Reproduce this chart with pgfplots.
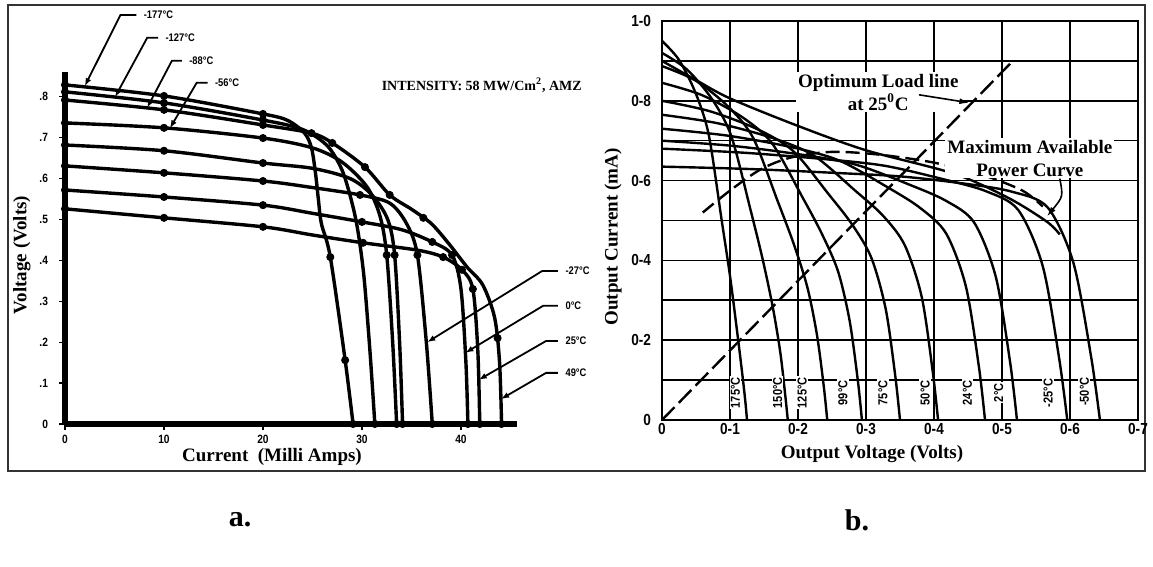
\documentclass[border=0pt]{standalone}
\usepackage{fontspec}
\setmainfont{Liberation Serif}
\newfontfamily\lett[FakeStretch=0.85]{Liberation Sans}
\usepackage{pgfplots}
\pgfplotsset{compat=1.18}
\usetikzlibrary{arrows.meta}
\begin{document}
\begin{tikzpicture}[x=0.5pt,y=0.5pt,
  cva/.style={line width=1.7pt, black, smooth, tension=0.5, mark=none, solid},
  cvb/.style={line width=1.2pt, black, smooth, tension=0.5, mark=none}]
\path[use as bounding box] (0,0) rectangle (1153,567);
\draw[line width=1pt, black!80] (8,562) rectangle (1145,96);
% ---------------- panel a ----------------
\begin{axis}[at={(32.5pt,71.5pt)}, anchor=south west, scale only axis,
  width=226.2pt, height=175.9pt,
  xmin=0, xmax=45.7, ymin=0, ymax=0.86,
  axis x line*=bottom, axis y line*=left,
  axis line style={-, line width=3pt, black},
  xtick={0,10,20,30,40}, xticklabels={0,10,20,30,40},
  ytick={0,0.1,0.2,0.3,0.4,0.5,0.6,0.7,0.8},
  yticklabels={0,.1,.2,.3,.4,.5,.6,.7,.8},
  tick style={black, line width=0.6pt}, major tick length=3pt, tick align=outside,
  ticklabel style={font=\lett\bfseries\fontsize{6}{7}\selectfont},
  xticklabel style={yshift=1pt},
  yticklabel style={xshift=-2pt},
  clip=false]
\addplot[cva] coordinates {(0,.829)(10,.802)(20,.758)(22.5,.742)(24.2,.711)(24.9,.675)(25.3,.614)(25.6,.548)(25.9,.49)(26.8,.408)(28.3,.156)(29.1,0)};
\addplot[cva] coordinates {(0,.812)(10,.785)(20,.743)(24,.72)(26.5,.68)(28,.62)(29,.54)(29.6,.47)(30.2,.36)(30.8,.18)(31.3,0)};
\addplot[cva] coordinates {(0,.792)(10,.768)(20,.731)(24.9,.711)(27,.687)(30.3,.628)(32.8,.56)(35,.525)(37,.49)(38.8,.44)(40.6,.384)(42.2,.34)(43.4,.26)(43.9,.15)(44.1,0)};
\addplot[cva] coordinates {(0,.736)(10,.724)(20,.699)(25,.675)(28,.64)(30.5,.58)(31.8,.51)(32.5,.413)(33.1,.2)(33.5,0)};
\addplot[cva] coordinates {(0,.682)(10,.668)(20,.638)(25,.625)(28.8,.60)(31,.56)(32.6,.50)(33.3,.413)(33.8,.2)(34.1,0)};
\addplot[cva] coordinates {(0,.631)(10,.614)(20,.594)(25,.578)(29.8,.56)(32.8,.54)(34.5,.49)(35.6,.413)(36.5,.2)(37.1,0)};
\addplot[cva] coordinates {(0,.572)(10,.555)(20,.535)(25,.515)(30,.494)(34,.475)(37.1,.445)(39.1,.413)(40,.33)(40.5,.15)(40.7,0)};
\addplot[cva] coordinates {(0,.526)(10,.504)(20,.482)(25,.462)(30.1,.443)(35.6,.425)(38.2,.408)(40.1,.377)(41.2,.33)(41.7,.18)(41.9,0)};
\addplot[only marks, mark=*, mark size=1.8pt, black, mark options={fill=black}] coordinates {
(0,.829)(10,.802)(20,.758)(0,.812)(10,.785)(20,.743)(0,.792)(10,.768)(20,.731)
(0,.736)(10,.724)(20,.699)(0,.682)(10,.668)(20,.638)(0,.631)(10,.614)(20,.594)
(0,.572)(10,.555)(20,.535)(0,.526)(10,.504)(20,.482)
(29.1,0)(31.3,0)(33.5,0)(34.1,0)(37.1,0)(40.7,0)(41.9,0)(44.1,0)
(26.8,.408)(28.3,.156)(30.1,.443)(30,.494)(29.8,.56)(32.5,.413)(33.3,.413)(35.6,.413)
(37.1,.445)(36.2,.504)(32.8,.56)(38.2,.408)(39.1,.413)(40.1,.377)(41.2,.33)(43.7,.21)
(24.9,.711)(27,.687)(30.3,.628)};
% labels
\begin{scope}[font=\lett\bfseries\fontsize{5.5}{6}\selectfont, line width=0.9pt]
\node[anchor=west] at (axis cs:7.2,1.0) {-177°C};
\draw[-{Latex[length=4pt,width=3pt]}] (axis cs:7.2,1.0) -- (axis cs:5.6,1.0) -- (axis cs:2.0,.826);
\node[anchor=west] at (axis cs:9.4,.944) {-127°C};
\draw[-{Latex[length=4pt,width=3pt]}] (axis cs:9.4,.944) -- (axis cs:8.3,.944) -- (axis cs:5.05,.799);
\node[anchor=west] at (axis cs:11.8,.888) {-88°C};
\draw[-{Latex[length=4pt,width=3pt]}] (axis cs:11.8,.888) -- (axis cs:10.8,.888) -- (axis cs:8.3,.773);
\node[anchor=west] at (axis cs:14.4,.834) {-56°C};
\draw[-{Latex[length=4pt,width=3pt]}] (axis cs:14.4,.834) -- (axis cs:13.3,.834) -- (axis cs:10.6,.723);
\node[anchor=west] at (axis cs:49.8,.374) {-27°C};
\draw[-{Latex[length=4pt,width=3pt]}] (axis cs:49.8,.374) -- (axis cs:48.2,.374) -- (axis cs:36.6,.20);
\node[anchor=west] at (axis cs:49.8,.289) {0°C};
\draw[-{Latex[length=4pt,width=3pt]}] (axis cs:49.8,.289) -- (axis cs:48.3,.289) -- (axis cs:40.45,.174);
\node[anchor=west] at (axis cs:49.8,.203) {25°C};
\draw[-{Latex[length=4pt,width=3pt]}] (axis cs:49.8,.203) -- (axis cs:48.6,.203) -- (axis cs:41.8,.108);
\node[anchor=west] at (axis cs:49.8,.125) {49°C};
\draw[-{Latex[length=4pt,width=3pt]}] (axis cs:49.8,.125) -- (axis cs:48.6,.125) -- (axis cs:44.05,.061);
\end{scope}
\node[font=\bfseries\fontsize{7}{8}\selectfont] at (axis cs:42.1,.829) {INTENSITY: 58 MW/Cm\textsuperscript{2}, AMZ};
\end{axis}
\node[rotate=90, font=\bfseries\fontsize{9.5}{11}\selectfont] at (22,312) {Voltage (Volts)};
\node[font=\bfseries\fontsize{9.5}{11}\selectfont] at (272,110) {Current\ \ (Milli Amps)};
% ---------------- panel b ----------------
\begin{axis}[at={(331pt,73.5pt)}, anchor=south west, scale only axis,
  width=238pt, height=199.5pt,
  xmin=0, xmax=0.7, ymin=0, ymax=1.0,
  axis line style={line width=1.4pt, black},
  xtick={0,0.1,0.2,0.3,0.4,0.5,0.6,0.7},
  xticklabels={0,0-1,0-2,0-3,0-4,0-5,0-6,0-7},
  ytick={0,0.2,0.4,0.6,0.8,1.0},
  yticklabels={0,0-2,0-4,0-6,0-8,1-0},
  minor ytick={0.1,0.3,0.5,0.7,0.9},
  grid=both, major grid style={black, line width=0.8pt}, minor grid style={black, line width=0.8pt},
  major tick length=0pt, minor tick length=0pt,
  ticklabel style={font=\lett\bfseries\fontsize{8}{9}\selectfont},
  xticklabel style={yshift=2pt},
  yticklabel style={xshift=-2pt}]
\addplot[cvb] coordinates {(0,.95)(.025,.9025)(.05,.817)(.069,.7125)(.0875,.5035)(.1,.361)(.11,.228)(.1175,.1235)(.1225,.0475)(.125,0)};
\addplot[cvb] coordinates {(0,.92)(.037,.878)(.074,.803)(.102,.711)(.13,.528)(.148,.403)(.163,.282)(.174,.169)(.181,.066)(.185,0)};
\addplot[cvb] coordinates {(0,.887)(.049,.851)(.097,.786)(.134,.707)(.17,.549)(.194,.44)(.214,.331)(.228,.212)(.238,.083)(.243,0)};
\addplot[cvb] coordinates {(0,.845)(.059,.814)(.118,.759)(.162,.693)(.206,.56)(.235,.467)(.259,.372)(.276,.248)(.288,.099)(.294,0)};
\addplot[cvb] coordinates {(0,.80)(.07,.774)(.14,.729)(.193,.674)(.245,.566)(.28,.489)(.308,.406)(.329,.278)(.343,.111)(.35,0)};
\addplot[cvb] coordinates {(0,.765)(.081,.744)(.162,.707)(.223,.663)(.284,.575)(.325,.512)(.357,.438)(.382,.308)(.398,.123)(.406,0)};
\addplot[cvb] coordinates {(0,.73)(.095,.713)(.19,.684)(.261,.65)(.333,.582)(.38,.531)(.418,.467)(.447,.334)(.466,.134)(.475,0)};
\addplot[cvb] coordinates {(0,.70)(.104,.687)(.209,.664)(.287,.639)(.365,.589)(.418,.549)(.459,.495)(.491,.358)(.512,.144)(.522,0)};
\addplot[cvb] coordinates {(0,.68)(.119,.670)(.238,.654)(.328,.637)(.417,.602)(.477,.573)(.524,.526)(.56,.385)(.584,.155)(.596,0)};
\addplot[cvb] coordinates {(0,.635)(.129,.629)(.258,.619)(.354,.610)(.451,.591)(.515,.572)(.567,.533)(.605,.394)(.631,.159)(.644,0)};
% envelope
\addplot[cvb] coordinates {(0,.90)(.05,.852)(.1,.806)(.2,.737)(.3,.676)(.43,.617)(.51,.556)(.566,.497)(.585,.465)};
% dashed arc
\addplot[cvb, dash pattern=on 7pt off 3pt] coordinates {(.06,.52)(.10,.575)(.145,.628)(.19,.658)(.25,.672)(.32,.665)(.40,.645)(.47,.615)(.53,.575)(.56,.535)};
% optimum load line
\addplot[line width=1.2pt, black, mark=none, dash pattern=on 9pt off 3pt] coordinates {(0,0)(0.516,0.90)};
% temperature labels
\begin{scope}[every node/.style={rotate=90, fill=white, inner sep=0.6pt, font=\lett\bfseries\fontsize{6.5}{7}\selectfont}]
\node at (axis cs:.108,.068) {175°C};
\node at (axis cs:.170,.068) {150°C};
\node at (axis cs:.206,.068) {125°C};
\node at (axis cs:.266,.068) {99°C};
\node at (axis cs:.325,.068) {75°C};
\node at (axis cs:.387,.068) {50°C};
\node at (axis cs:.449,.068) {24°C};
\node at (axis cs:.495,.068) {2°C};
\node at (axis cs:.568,.068) {-25°C};
\node at (axis cs:.621,.071) {-50°C};
\end{scope}
\node[fill=white, inner sep=1pt, font=\bfseries\fontsize{9.5}{11}\selectfont, align=center] at (axis cs:.318,.822) {Optimum Load line\\[0.5pt]at 25\textsuperscript{0}C};
\draw[-{Latex[length=5pt,width=3pt]}, line width=0.8pt] (axis cs:.378,.815) -- (axis cs:.452,.795);
\node[fill=white, inner sep=1pt, font=\bfseries\fontsize{9.5}{11}\selectfont, align=center] at (axis cs:.541,.656) {Maximum Available\\[0.5pt]Power Curve};
\draw[-{Latex[length=5pt,width=3pt]}, line width=0.8pt] (axis cs:.585,.605) .. controls (axis cs:.59,.56) .. (axis cs:.566,.51);
\end{axis}
\node[rotate=90, font=\bfseries\fontsize{9.5}{11}\selectfont] at (613,330) {Output Current (mA)};
\node[font=\bfseries\fontsize{9.5}{11}\selectfont] at (872,113) {Output Voltage (Volts)};
\node[font=\bfseries\fontsize{15}{17}\selectfont] at (240,47) {a.};
\node[font=\bfseries\fontsize{15}{17}\selectfont] at (857,47) {b.};
\end{tikzpicture}
\end{document}
